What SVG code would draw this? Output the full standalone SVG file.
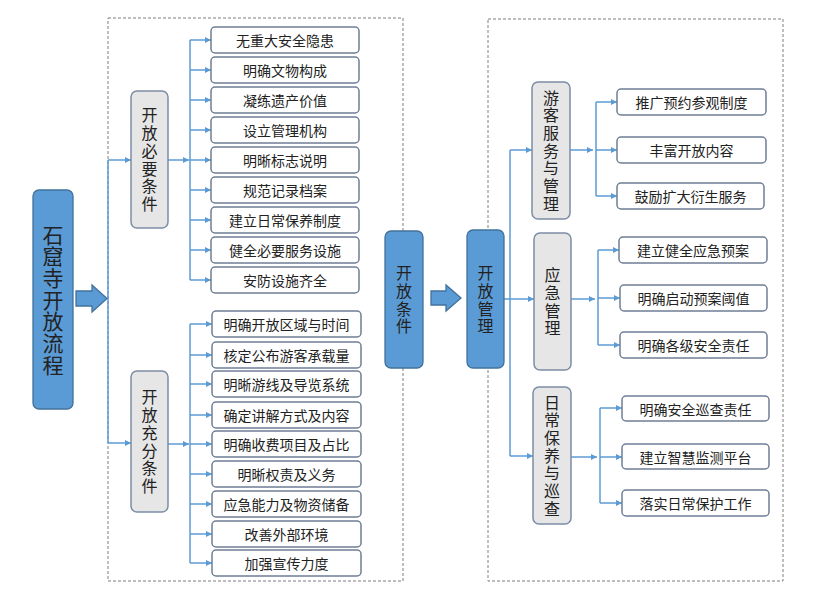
<svg xmlns="http://www.w3.org/2000/svg" width="822" height="606" viewBox="0 0 822 606">
<defs>
<marker id="ah" viewBox="0 0 8 8" refX="8" refY="4" markerWidth="6" markerHeight="6" orient="auto" markerUnits="userSpaceOnUse"><path d="M0,0 L8,4 L0,8 z" fill="#5B9BD5"/></marker>
<style>
text{font-family:"Noto Sans CJK SC","Noto Sans",sans-serif;fill:#222;text-anchor:middle}
.bt{font-size:14px;dominant-baseline:central}
.v{writing-mode:vertical-rl;text-orientation:upright}
.vt{font-size:16px;letter-spacing:1.7px}
.mt{font-size:21px;letter-spacing:0.7px}
.frame{fill:none;stroke:#7F7F7F;stroke-width:1;stroke-dasharray:3 2}
.blue{fill:#5B9BD5;stroke:#41719C;stroke-width:1.3}
.grey{fill:#E7E6E6;stroke:#7C8DA6;stroke-width:1.5}
.box{fill:#fff;stroke:#6F7F95;stroke-width:1.5}
.c{fill:none;stroke:#5B9BD5;stroke-width:1.5}
.a{fill:none;stroke:#5B9BD5;stroke-width:1.5;marker-end:url(#ah)}
</style>
</defs>
<rect width="822" height="606" fill="#fff"/>
<rect class="frame" x="108" y="18" width="295" height="563"/>
<rect class="frame" x="488" y="19" width="295" height="562"/>

<g id="connectors">
<path class="c" d="M108,160 V443"/>
<path class="a" d="M108,160 H131"/>
<path class="a" d="M108,443 H131"/>
<path class="a" d="M168,160 H189"/>
<path class="c" d="M190,40 V280"/>
<path class="a" d="M190,40 H211"/>
<path class="a" d="M190,70 H211"/>
<path class="a" d="M190,100 H211"/>
<path class="a" d="M190,130 H211"/>
<path class="a" d="M190,160 H211"/>
<path class="a" d="M190,190 H211"/>
<path class="a" d="M190,220 H211"/>
<path class="a" d="M190,250 H211"/>
<path class="a" d="M190,280 H211"/>
<path class="a" d="M168,444 H189"/>
<path class="c" d="M190,324 V563"/>
<path class="a" d="M190,324 H212"/>
<path class="a" d="M190,355 H212"/>
<path class="a" d="M190,384 H212"/>
<path class="a" d="M190,415 H212"/>
<path class="a" d="M190,444 H212"/>
<path class="a" d="M190,474 H212"/>
<path class="a" d="M190,504 H212"/>
<path class="a" d="M190,534 H212"/>
<path class="a" d="M190,563 H212"/>
<path class="c" d="M510,150 V456"/>
<path class="a" d="M510,150 H532"/>
<path class="a" d="M504,299 H534"/>
<path class="a" d="M510,456 H533"/>
<path class="a" d="M570,150 H593"/>
<path class="c" d="M596,102 V196"/>
<path class="a" d="M596,102 H617"/>
<path class="a" d="M596,150 H617"/>
<path class="a" d="M596,196 H617"/>
<path class="a" d="M571,299 H595"/>
<path class="c" d="M598,250 V345"/>
<path class="a" d="M598,250 H619"/>
<path class="a" d="M598,298 H620"/>
<path class="a" d="M598,345 H620"/>
<path class="a" d="M571,457 H597"/>
<path class="c" d="M600,408 V503"/>
<path class="a" d="M600,408 H622"/>
<path class="a" d="M600,457 H622"/>
<path class="a" d="M600,503 H622"/>
</g>

<g id="arrow1"><path class="blue" d="M76,291 H92 V285 L107,298.5 L92,312 V306 H76 Z"/></g>
<g id="arrow2"><path class="blue" d="M431,291 H446 V285 L461,298 L446,311 V305 H431 Z"/></g>

<g id="main"><rect class="blue" x="33" y="190" width="40" height="219" rx="6"/>
<text class="v mt" x="53" y="300">石窟寺开放流程</text></g>

<g id="bixu"><rect class="grey" x="131" y="91" width="37" height="137" rx="6"/>
<text class="v vt" x="149.5" y="160.5">开放必要条件</text></g>

<g id="chongfen"><rect class="grey" x="131" y="371" width="37" height="141" rx="6"/>
<text class="v vt" x="149.5" y="442.5">开放充分条件</text></g>

<g id="b1"><rect class="box" x="211" y="27" width="148" height="26" rx="4"/><text class="bt" x="285" y="40">无重大安全隐患</text></g>
<g id="b2"><rect class="box" x="211" y="57" width="148" height="26" rx="4"/><text class="bt" x="285" y="70">明确文物构成</text></g>
<g id="b3"><rect class="box" x="211" y="87" width="148" height="26" rx="4"/><text class="bt" x="285" y="100">凝练遗产价值</text></g>
<g id="b4"><rect class="box" x="211" y="117" width="148" height="26" rx="4"/><text class="bt" x="285" y="130">设立管理机构</text></g>
<g id="b5"><rect class="box" x="211" y="147" width="148" height="26" rx="4"/><text class="bt" x="285" y="160">明晰标志说明</text></g>
<g id="b6"><rect class="box" x="211" y="177" width="148" height="26" rx="4"/><text class="bt" x="285" y="190">规范记录档案</text></g>
<g id="b7"><rect class="box" x="211" y="207" width="148" height="26" rx="4"/><text class="bt" x="285" y="220">建立日常保养制度</text></g>
<g id="b8"><rect class="box" x="211" y="237" width="148" height="26" rx="4"/><text class="bt" x="285" y="250">健全必要服务设施</text></g>
<g id="b9"><rect class="box" x="211" y="267" width="148" height="26" rx="4"/><text class="bt" x="285" y="280">安防设施齐全</text></g>

<g id="c1"><rect class="box" x="212" y="311" width="149" height="26" rx="4"/><text class="bt" x="286.5" y="324">明确开放区域与时间</text></g>
<g id="c2"><rect class="box" x="212" y="342" width="149" height="26" rx="4"/><text class="bt" x="286.5" y="355">核定公布游客承载量</text></g>
<g id="c3"><rect class="box" x="212" y="371" width="149" height="26" rx="4"/><text class="bt" x="286.5" y="384">明晰游线及导览系统</text></g>
<g id="c4"><rect class="box" x="212" y="402" width="149" height="26" rx="4"/><text class="bt" x="286.5" y="415">确定讲解方式及内容</text></g>
<g id="c5"><rect class="box" x="212" y="431" width="149" height="26" rx="4"/><text class="bt" x="286.5" y="444">明确收费项目及占比</text></g>
<g id="c6"><rect class="box" x="212" y="461" width="149" height="26" rx="4"/><text class="bt" x="286.5" y="474">明晰权责及义务</text></g>
<g id="c7"><rect class="box" x="212" y="491" width="149" height="26" rx="4"/><text class="bt" x="286.5" y="504">应急能力及物资储备</text></g>
<g id="c8"><rect class="box" x="212" y="521" width="149" height="26" rx="4"/><text class="bt" x="286.5" y="534">改善外部环境</text></g>
<g id="c9"><rect class="box" x="212" y="550" width="149" height="26" rx="4"/><text class="bt" x="286.5" y="563">加强宣传力度</text></g>

<g id="kftj"><rect class="blue" x="385" y="231" width="38" height="137" rx="6"/>
<text class="v vt" x="404" y="300.5">开放条件</text></g>

<g id="kfgl"><rect class="blue" x="467" y="230" width="37" height="138" rx="6"/>
<text class="v vt" x="485.5" y="300.5">开放管理</text></g>

<g id="youke"><rect class="grey" x="532" y="82" width="38" height="137" rx="6"/>
<text class="v vt" x="551" y="151.5">游客服务与管理</text></g>

<g id="yingji"><rect class="grey" x="534" y="233" width="37" height="137" rx="6"/>
<text class="v vt" x="552.5" y="302.5">应急管理</text></g>

<g id="richang"><rect class="grey" x="533" y="387" width="38" height="137" rx="6"/>
<text class="v vt" x="552" y="456.5">日常保养与巡查</text></g>

<g id="r1"><rect class="box" x="617" y="89" width="149" height="26" rx="4"/><text class="bt" x="691.5" y="102">推广预约参观制度</text></g>
<g id="r2"><rect class="box" x="617" y="137" width="149" height="26" rx="4"/><text class="bt" x="691.5" y="150">丰富开放内容</text></g>
<g id="r3"><rect class="box" x="617" y="183" width="147" height="26" rx="4"/><text class="bt" x="690.5" y="196">鼓励扩大衍生服务</text></g>
<g id="r4"><rect class="box" x="619" y="237" width="148" height="26" rx="4"/><text class="bt" x="693" y="250">建立健全应急预案</text></g>
<g id="r5"><rect class="box" x="620" y="285" width="147" height="26" rx="4"/><text class="bt" x="693.5" y="298">明确启动预案阈值</text></g>
<g id="r6"><rect class="box" x="620" y="332" width="147" height="26" rx="4"/><text class="bt" x="693.5" y="345">明确各级安全责任</text></g>
<g id="r7"><rect class="box" x="622" y="396" width="147" height="25" rx="4"/><text class="bt" x="695.5" y="408.5">明确安全巡查责任</text></g>
<g id="r8"><rect class="box" x="622" y="444" width="147" height="25" rx="4"/><text class="bt" x="695.5" y="456.5">建立智慧监测平台</text></g>
<g id="r9"><rect class="box" x="622" y="490" width="147" height="26" rx="4"/><text class="bt" x="695.5" y="503">落实日常保护工作</text></g>
</svg>
